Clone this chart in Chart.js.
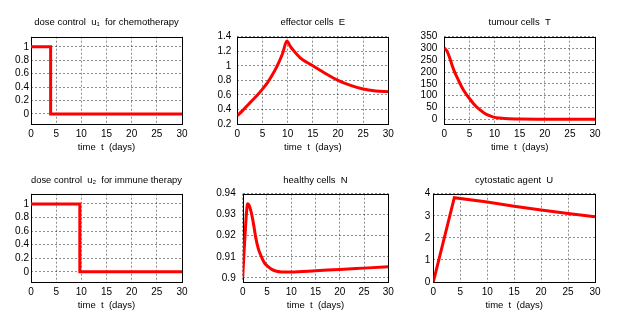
<!DOCTYPE html>
<html><head><meta charset="utf-8">
<script src="https://cdn.jsdelivr.net/npm/chart.js@4"></script>
<style>
html,body{margin:0;padding:0;background:#fff;}
body{width:619px;height:316px;position:relative;overflow:hidden;}
canvas{position:absolute;}
</style></head><body>
<canvas id="c1" width="205" height="160" style="left:0;top:0"></canvas>
<canvas id="c2" width="200" height="160" style="left:205px;top:0"></canvas>
<canvas id="c3" width="214" height="160" style="left:405px;top:0"></canvas>
<canvas id="c4" width="205" height="159" style="left:0;top:157px"></canvas>
<canvas id="c5" width="200" height="159" style="left:205px;top:157px"></canvas>
<canvas id="c6" width="214" height="159" style="left:405px;top:157px"></canvas>
<script>
// ---- data ----
const X_TICKS = [0, 5, 10, 15, 20, 25, 30];
const X_LABEL = 'time  t  (days)';

const U1_TITLE = 'dose control  u\u2081  for chemotherapy';
const U1_T = [0, 3.9, 3.9, 30];
const U1_V = [1, 1, 0, 0];
const U1_YTICKS = [0, 0.2, 0.4, 0.6, 0.8, 1];

const E_TITLE = 'effector cells  E';
const E_T = [0, 1, 2.5, 4, 5, 6, 7, 8, 9, 9.85, 10.5, 11, 12.5, 15, 17.5, 20, 22.5, 25, 27.5, 30];
const E_V = [0.315, 0.38, 0.49, 0.6, 0.68, 0.77, 0.88, 1.01, 1.17, 1.34, 1.27, 1.225, 1.11, 1.0, 0.895, 0.80, 0.73, 0.68, 0.655, 0.645];
const E_YTICKS = [0.2, 0.4, 0.6, 0.8, 1, 1.2, 1.4];

const T_TITLE = 'tumour cells  T';
const T_T = [0, 0.5, 1, 1.5, 2, 2.5, 3, 3.5, 4, 5, 6, 7, 8, 9, 10, 11, 12, 13, 15, 20, 30];
const T_V = [302, 290, 265, 232, 203, 180, 157, 136, 118, 88, 62, 42, 26, 15, 8, 5, 3, 2, 0.7, 0.2, 0];
const T_YTICKS = [0, 50, 100, 150, 200, 250, 300, 350];

const U2_TITLE = 'dose control  u\u2082  for immune therapy';
const U2_T = [0, 9.7, 9.7, 30];
const U2_V = [1, 1, 0, 0];
const U2_YTICKS = [0, 0.2, 0.4, 0.6, 0.8, 1];

const N_TITLE = 'healthy cells  N';
const N_T = [0, 0.25, 0.5, 0.75, 1.0, 1.3, 1.7, 2.2, 2.7, 3.2, 3.8, 4.5, 5, 6, 7, 8, 10, 15, 20, 25, 30];
const N_V = [0.9, 0.911, 0.921, 0.930, 0.9352, 0.9345, 0.9317, 0.926, 0.919, 0.914, 0.9103, 0.907, 0.9058, 0.904, 0.9031, 0.9028, 0.9027, 0.9033, 0.904, 0.9046, 0.9052];
const N_YTICKS = [0.9, 0.91, 0.92, 0.93, 0.94];

const UA_TITLE = 'cytostatic agent  U';
const UA_T = [0, 3.9, 10, 15, 20, 25, 30];
const UA_V = [0, 3.82, 3.62, 3.43, 3.26, 3.1, 2.95];
const UA_YTICKS = [0, 1, 2, 3, 4];

// ---- drawing ----
Chart.defaults.font.family = '"Liberation Sans", Arial, sans-serif';
Chart.defaults.color = '#000';

const framePlugin = {
  id: 'frame',
  beforeDatasetsDraw(chart) {
    const {ctx, chartArea: a} = chart;
    ctx.save();
    ctx.strokeStyle = '#000';
    ctx.lineWidth = 1;
    const l = Math.round(a.left) + 0.5, t = Math.round(a.top) + 0.5;
    ctx.strokeRect(l, t, Math.round(a.right) - Math.round(a.left), Math.round(a.bottom) - Math.round(a.top));
    ctx.restore();
  }
};

function fmt(v) { return String(+v.toFixed(4)); }

function makeChart(id, lay, xs, ys, yticks, title, ymin, ymax, smooth) {
  const pts = xs.map((x, i) => ({x: x, y: ys[i]}));
  new Chart(document.getElementById(id), {
    type: 'line',
    data: { datasets: [{
      data: pts, borderColor: '#ff0000', borderWidth: 3, pointRadius: 0, fill: false,
      tension: 0, cubicInterpolationMode: smooth ? 'monotone' : 'default',
      borderJoinStyle: 'miter'
    }]},
    options: {
      responsive: false, animation: false, devicePixelRatio: 1,
      layout: { padding: { left: 0, top: 0, right: lay.R, bottom: 0 } },
      plugins: {
        legend: { display: false }, tooltip: { enabled: false },
        title: { display: true, text: title, fullSize: false, color: '#000',
          font: { size: 9.5, weight: 'normal' }, padding: { top: lay.tt, bottom: lay.tb } }
      },
      scales: {
        x: {
          type: 'linear', min: 0, max: 30,
          afterBuildTicks: s => { s.ticks = X_TICKS.map(v => ({value: v})); },
          afterFit: s => { s.height = lay.B; },
          ticks: { font: { size: 10 }, padding: 4, maxRotation: 0, autoSkip: false, callback: v => fmt(v) },
          grid: { color: 'rgba(0,0,0,0.45)', drawTicks: false, lineWidth: 1 },
          border: { display: false, dash: [2, 2] },
          title: { display: true, text: X_LABEL, font: { size: 9.5 }, padding: { top: 0, bottom: lay.xb } }
        },
        y: {
          type: 'linear', min: ymin, max: ymax,
          afterBuildTicks: s => { s.ticks = yticks.map(v => ({value: v})); },
          afterFit: s => { s.width = lay.L; },
          ticks: { font: { size: 10 }, padding: lay.yp, autoSkip: false, callback: v => fmt(v) },
          grid: { color: 'rgba(0,0,0,0.45)', drawTicks: false, lineWidth: 1 },
          border: { display: false, dash: [2, 2] }
        }
      }
    },
    plugins: [framePlugin]
  });
}

const TOP = { tt: 16.3, tb: 9, B: 36, xb: 7.3 };
const BOT = { tt: 17.3, tb: 8, B: 34, xb: 5.3 };

makeChart('c1', Object.assign({L: 31, R: 23, yp: 2}, TOP), U1_T, U1_V, U1_YTICKS, U1_TITLE, -0.15, 1.15, false);
makeChart('c2', Object.assign({L: 32.3, R: 16.7, yp: 6}, TOP), E_T, E_V, E_YTICKS, E_TITLE, 0.2, 1.4, true);
makeChart('c3', Object.assign({L: 39.3, R: 24, yp: 7}, TOP), T_T, T_V, T_YTICKS, T_TITLE, -20, 350, true);
makeChart('c4', Object.assign({L: 31, R: 23, yp: 2}, BOT), U2_T, U2_V, U2_YTICKS, U2_TITLE, -0.15, 1.15, false);
makeChart('c5', Object.assign({L: 37.7, R: 16.7, yp: 7}, BOT), N_T, N_V, N_YTICKS, N_TITLE, 0.898, 0.94, true);
makeChart('c6', Object.assign({L: 28.3, R: 24, yp: 3}, BOT), UA_T, UA_V, UA_YTICKS, UA_TITLE, 0, 4, false);
</script>
</body></html>
